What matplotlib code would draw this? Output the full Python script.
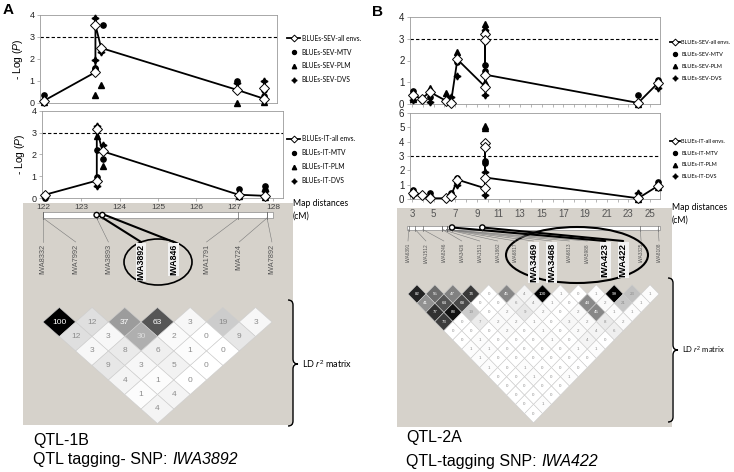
import numpy as np
import matplotlib.pyplot as plt
from matplotlib.patches import Rectangle, Polygon, Ellipse, Circle, PathPatch
from matplotlib.path import Path

plt.rcParams['font.family'] = ['Liberation Sans', 'DejaVu Sans']
plt.rcParams['mathtext.fontset'] = 'custom'
plt.rcParams['mathtext.rm'] = 'Liberation Sans'
plt.rcParams['mathtext.it'] = 'Liberation Sans:italic'
plt.rcParams['mathtext.bf'] = 'Liberation Sans:bold'

W, H = 734, 472
GREY = '#d6d2cb'
SOFT = ['Lato', 'DejaVu Sans']

# ---------------------------------------------------------
# Panel A: QTL-1B
# ---------------------------------------------------------
a_markers = ['IWA8332', 'IWA7992', 'IWA3893', 'IWA3892', 'IWA846', 'IWA1791', 'IWA724', 'IWA7892']
a_map_cm = [122.0, 122.0, 123.4, 123.4, 123.55, 127.1, 127.85, 127.85]
a_bold = ['IWA3892', 'IWA846']
a_circled = ['IWA3892', 'IWA846']
a_ticks = [122, 123, 124, 125, 126, 127, 128]

# -log10(P), severity (SEV)
a_sev_all_x = [122.05, 123.4, 123.4, 123.55, 127.1, 127.8, 127.8]
a_sev_all_y = [0.1, 1.4, 3.55, 2.5, 0.6, 0.2, 0.7]
a_sev_mtv_x = [122.05, 123.4, 123.4, 123.6, 127.1, 127.8, 127.8]
a_sev_mtv_y = [0.35, 1.6, 1.55, 3.55, 1.0, 0.6, 0.3]
a_sev_plm_x = [122.05, 123.4, 123.55, 127.1, 127.8]
a_sev_plm_y = [0.05, 0.35, 0.8, 0.0, 0.05]
a_sev_dvs_x = [122.05, 123.4, 123.4, 123.55, 127.1, 127.8]
a_sev_dvs_y = [0.1, 1.95, 3.85, 2.3, 0.9, 1.0]

# -log10(P), infection type (IT)
a_it_all_x = [122.05, 123.4, 123.4, 123.55, 127.1, 127.8]
a_it_all_y = [0.15, 0.8, 3.15, 2.15, 0.15, 0.1]
a_it_mtv_x = [122.05, 123.4, 123.4, 123.55, 127.1, 127.8, 127.8]
a_it_mtv_y = [0.0, 2.2, 0.95, 1.8, 0.4, 0.55, 0.35]
a_it_plm_x = [123.4, 123.55, 127.1, 127.8]
a_it_plm_y = [2.85, 1.45, 0.1, 0.05]
a_it_dvs_x = [122.05, 123.4, 123.4, 123.55, 127.1, 127.8]
a_it_dvs_y = [0.05, 3.3, 0.55, 2.45, 0.2, 0.3]

# LD r2 (x100), one list per marker distance
a_ld = [[100, 12, 37, 63, 3, 19, 3],
        [12, 3, 30, 2, 0, 9],
        [3, 8, 6, 1, 0],
        [9, 3, 5, 0],
        [4, 1, 0],
        [1, 4],
        [4]]

# ---------------------------------------------------------
# Panel B: QTL-2A
# ---------------------------------------------------------
b_markers = ['IWA6391', 'IWA1512', 'IWA8246', 'IWA3426', 'IWA1511', 'IWA1862', 'IWA6817',
             'IWA3469', 'IWA3468', 'IWA6813', 'IWA5988', 'IWA423', 'IWA422', 'IWA3325', 'IWA8108']
b_map_cm = [2.7, 3.3, 4.0, 5.8, 5.8, 6.2, 6.2, 6.2, 6.2, 6.2, 6.2, 6.7, 9.5, 24.1, 25.75]
b_bold = ['IWA3469', 'IWA3468', 'IWA423', 'IWA422']
b_circled = ['IWA423', 'IWA422']
b_ticks = [3, 5, 7, 9, 11, 13, 15, 17, 19, 21, 23, 25]

b_sev_all_x = [3.1, 3.9, 4.66, 6.14, 6.6, 7.2, 9.75, 9.75, 9.75, 9.75, 23.9, 25.7]
b_sev_all_y = [0.4, 0.25, 0.55, 0.15, 0.05, 2.05, 0.8, 3.2, 2.95, 1.35, 0.05, 0.95]
b_sev_mtv_x = [3.1, 3.9, 4.66, 6.6, 7.2, 9.75, 9.75, 9.75, 23.9, 25.7]
b_sev_mtv_y = [0.6, 0.2, 0.3, 0.1, 1.95, 2.9, 1.8, 1.5, 0.4, 1.1]
b_sev_plm_x = [3.1, 4.66, 6.14, 7.2, 9.75, 9.75, 9.75, 23.9, 25.7]
b_sev_plm_y = [0.25, 0.75, 0.5, 2.4, 3.7, 3.5, 1.0, 0.0, 1.0]
b_sev_dvs_x = [3.1, 4.66, 6.6, 7.2, 9.75, 9.75, 23.9, 25.7]
b_sev_dvs_y = [0.2, 0.1, 0.3, 1.3, 0.4, 3.4, 0.05, 0.75]

b_it_all_x = [3.1, 3.9, 4.66, 6.14, 6.6, 7.2, 9.75, 9.75, 9.75, 9.75, 23.9, 25.7]
b_it_all_y = [0.45, 0.3, 0.05, 0.05, 0.2, 1.35, 0.75, 3.9, 3.65, 1.5, 0.05, 0.9]
b_it_mtv_x = [3.1, 3.9, 4.66, 6.6, 7.2, 9.75, 9.75, 9.75, 23.9, 25.7]
b_it_mtv_y = [0.65, 0.3, 0.4, 0.4, 1.5, 2.65, 2.5, 1.5, 0.05, 1.2]
b_it_plm_x = [6.6, 7.2, 9.75, 9.75, 23.9, 25.7]
b_it_plm_y = [0.3, 1.3, 5.1, 4.95, 0.0, 0.85]
b_it_dvs_x = [3.1, 4.66, 6.14, 7.2, 9.75, 9.75, 23.9, 25.7]
b_it_dvs_y = [0.3, 0.2, 0.05, 1.0, 0.3, 1.9, 0.4, 0.9]

b_ld = [[82, 55, 47, 74, 0, 45, 4, 100, 1, 0, 1, 99, 23, 1],
        [41, 64, 68, 0, 0, 6, 4, 1, 0, 44, 2, 21, 1],
        [77, 88, 19, 0, 2, 9, 2, 0, 2, 45, 1, 1],
        [73, 0, 7, 2, 2, 1, 0, 3, 2, 8, 2],
        [0, 0, 0, 2, 0, 1, 0, 2, 4, 6],
        [0, 1, 0, 0, 0, 1, 0, 4, 0],
        [1, 1, 0, 0, 0, 0, 1, 1],
        [1, 0, 0, 0, 0, 0, 0],
        [1, 0, 1, 0, 0, 0],
        [0, 0, 1, 0, 1],
        [0, 0, 0, 0],
        [0, 0, 0],
        [0, 1],
        [0]]


fig = plt.figure(figsize=(W / 100, H / 100), dpi=100)

# overlay axes in pixel units for the map / LD part
ov = fig.add_axes([0, 0, 1, 1])
ov.set_xlim(0, W)
ov.set_ylim(H, 0)
ov.axis('off')
ov.set_zorder(1)


def px_axes(l, t, r, b):
    ax = fig.add_axes([l / W, 1 - b / H, (r - l) / W, (b - t) / H])
    ax.set_zorder(2)
    for sp in ax.spines.values():
        sp.set_color('#9a9a9a')
        sp.set_linewidth(0.6)
    return ax


def gwas(ax, trait, all_x, all_y, mtv_x, mtv_y, plm_x, plm_y, dvs_x, dvs_y):
    ax.axhline(3, color='black', ls=(0, (3, 2)), lw=0.8, zorder=1)
    ax.plot(mtv_x, mtv_y, 'o', color='black', ms=3.8, clip_on=False, zorder=3,
            label=f'BLUEs-{trait}-MTV')
    ax.plot(plm_x, plm_y, '^', color='black', ms=4.2, clip_on=False, zorder=3,
            label=f'BLUEs-{trait}-PLM')
    ax.plot(dvs_x, dvs_y, marker=(4, 1, 0), ls='none', color='black', ms=5, clip_on=False,
            zorder=3, label=f'BLUEs-{trait}-DVS')
    ax.plot(all_x, all_y, color='black', lw=1.3, marker='D', ms=4.6, mfc='white', mec='black',
            mew=0.7, clip_on=False, zorder=4, label=f'BLUEs-{trait}-all envs.')
    h, l = ax.get_legend_handles_labels()
    order = [3, 0, 1, 2]
    return [h[i] for i in order], [l[i] for i in order]


def legend(ax, handles, labels, x_anchor, y_anchor, size, hlen):
    ax.legend(handles, labels, loc='center left', bbox_to_anchor=(x_anchor, y_anchor),
              frameon=False, prop={'family': SOFT, 'size': size}, handlelength=hlen,
              handletextpad=0.2, labelspacing=1.0 * 5 / size, borderpad=0, borderaxespad=0,
              markerscale=0.75)


# ---------------- panel A plots ----------------
ax1 = px_axes(40, 15, 277, 103)
hl = gwas(ax1, 'SEV', a_sev_all_x, a_sev_all_y, a_sev_mtv_x, a_sev_mtv_y,
          a_sev_plm_x, a_sev_plm_y, a_sev_dvs_x, a_sev_dvs_y)
ax1.set_xlim(121.95, 128.15)
ax1.set_ylim(0, 4)
ax1.set_yticks([0, 1, 2, 3, 4])
ax1.set_xticks(a_ticks)
ax1.tick_params(axis='x', labelbottom=False, length=0)
ax1.tick_params(axis='y', labelsize=6.5, length=2, width=0.5, colors='#9a9a9a',
                labelcolor='#222222', pad=2)
ax1.set_ylabel(r'- Log ($\it{P}$)', fontsize=7.5, labelpad=3)
legend(ax1, *hl, 1.042, 0.5, 4.8, 2.0)

ax2 = px_axes(42, 111, 283, 198)
hl = gwas(ax2, 'IT', a_it_all_x, a_it_all_y, a_it_mtv_x, a_it_mtv_y,
          a_it_plm_x, a_it_plm_y, a_it_dvs_x, a_it_dvs_y)
ax2.set_xlim(121.97, 128.26)
ax2.set_ylim(0, 4)
ax2.set_yticks([0, 1, 2, 3, 4])
ax2.set_xticks(a_ticks)
ax2.tick_params(axis='x', labelsize=6, length=2, width=0.5, colors='#9a9a9a',
                labelcolor='#444444', pad=2.5)
ax2.tick_params(axis='y', labelsize=6.5, length=2, width=0.5, colors='#9a9a9a',
                labelcolor='#222222', pad=2)
ax2.set_ylabel(r'- Log ($\it{P}$)', fontsize=7.5, labelpad=3)
legend(ax2, *hl, (287 - 42) / 241, 0.443, 4.8, 2.0)

# ---------------- panel B plots ----------------
ax3 = px_axes(410, 17, 660, 104)
hl = gwas(ax3, 'SEV', b_sev_all_x, b_sev_all_y, b_sev_mtv_x, b_sev_mtv_y,
          b_sev_plm_x, b_sev_plm_y, b_sev_dvs_x, b_sev_dvs_y)
ax3.set_xlim(2.82, 25.92)
ax3.set_ylim(0, 4)
ax3.set_yticks([0, 1, 2, 3, 4])
ax3.set_xticks(range(3, 26))
ax3.tick_params(axis='x', labelbottom=False, length=2, width=0.5, colors='#9a9a9a')
ax3.tick_params(axis='y', labelsize=7, length=2, width=0.5, colors='#9a9a9a',
                labelcolor='#222222', pad=2)
legend(ax3, *hl, 1.038, 0.5, 4.0, 1.9)

ax4 = px_axes(410, 113, 660, 199)
hl = gwas(ax4, 'IT', b_it_all_x, b_it_all_y, b_it_mtv_x, b_it_mtv_y,
          b_it_plm_x, b_it_plm_y, b_it_dvs_x, b_it_dvs_y)
ax4.set_xlim(2.82, 25.92)
ax4.set_ylim(0, 6)
ax4.set_yticks(range(0, 7))
ax4.set_xticks(b_ticks)
ax4.set_xticks(range(3, 26), minor=True)
ax4.tick_params(axis='x', which='both', labelsize=7, length=2, width=0.5, colors='#9a9a9a',
                labelcolor='#555555', pad=5.5)
ax4.tick_params(axis='y', labelsize=7, length=2, width=0.5, colors='#9a9a9a',
                labelcolor='#222222', pad=2)
legend(ax4, *hl, 1.038, 0.465, 4.0, 1.9)


# ---------------- map, labels and LD ----------------
def brace(x, y0, y1, ym, w):
    verts = [(x, y0), (x + w / 2, y0), (x + w / 2, y0 + w / 2),
             (x + w / 2, ym - w / 2), (x + w / 2, ym), (x + w, ym),
             (x + w / 2, ym), (x + w / 2, ym + w / 2),
             (x + w / 2, y1 - w / 2), (x + w / 2, y1), (x, y1)]
    codes = [Path.MOVETO, Path.CURVE3, Path.CURVE3, Path.LINETO, Path.CURVE3, Path.CURVE3,
             Path.CURVE3, Path.CURVE3, Path.LINETO, Path.CURVE3, Path.CURVE3]
    ov.add_patch(PathPatch(Path(verts, codes), fc='none', ec='black', lw=1.0))


def map_block(names, map_cm, cm0, px0, px_per_cm, lab_x0, lab_step, bar, lab_top,
              bold, circled, fs_norm, fs_bold):
    bx0, bx1, by0, by1 = bar
    ov.add_patch(Rectangle((bx0, by0), bx1 - bx0, by1 - by0, fc='white', ec='#8a8a8a', lw=0.5))
    for i, (nm, cm) in enumerate(zip(names, map_cm)):
        mx = px0 + (cm - cm0) * px_per_cm
        lx = lab_x0 + i * lab_step
        ov.plot([mx, mx], [by0, by1 + 1], color='#666666', lw=0.5)
        if nm in circled:
            ov.plot([mx, lx], [by0 + 2, lab_top - 1], color='black', lw=1.5, solid_capstyle='round')
            ov.add_patch(Circle((mx, (by0 + by1) / 2), 2.6, fc='white', ec='black', lw=1.0, zorder=5))
        else:
            ov.plot([mx, lx], [by1, lab_top - 1], color='#7a7a7a', lw=0.4)
        if nm in bold:
            ov.text(lx, lab_top + 1, nm, rotation=90, ha='center', va='top', fontsize=fs_bold,
                    fontweight='bold', color='black',
                    bbox=dict(fc='#f2f2f2', ec='none', pad=0.6))
        else:
            ov.text(lx, lab_top + 1, nm, rotation=90, ha='center', va='top', fontsize=fs_norm,
                    color='#555555')


def ld_block(rows, lab_x0, lab_step, y_top, dy, fs):
    for d, row in enumerate(rows, 1):
        for i, v in enumerate(row):
            cx = lab_x0 + (i + d / 2) * lab_step
            cy = y_top + (d - 1) * dy
            g = min(1.0, max(0.0, 1 - 1.05 * v / 100))
            ov.add_patch(Polygon([(cx, cy - dy), (cx + lab_step / 2, cy), (cx, cy + dy),
                                  (cx - lab_step / 2, cy)], closed=True, fc=(g, g, g),
                                 ec='#cdcdcd', lw=0.4))
            if v >= 35:
                tc = 'white'
            elif v >= 25:
                tc = '#dcdcdc'
            else:
                tc = '#8c8c8c'
            ov.text(cx, cy, str(v), ha='center', va='center', fontsize=fs, color=tc)


def caption(x, y, plain, ital):
    t = ov.text(x, y, plain, fontsize=11.5, va='baseline')
    ov.annotate(ital, xy=(1, 0), xycoords=t, va='bottom', ha='left', fontsize=11.5,
                style='italic')


# grey map backgrounds
ov.add_patch(Rectangle((23, 203), 270, 222, fc=GREY, ec='none'))
ov.add_patch(Rectangle((397, 208), 275, 219, fc=GREY, ec='none'))

# panel A
map_block(a_markers, a_map_cm, 122, 43, 38.3, 43, 32.7, (43, 273, 212, 218), 243,
          a_bold, a_circled, 5.3, 6.3)
ov.add_patch(Ellipse((158, 262), 68, 46, fc='none', ec='black', lw=1.2))
ld_block(a_ld, 43, 32.7, 322, 14.5, 6)
brace(288, 300, 426, 364, 10)
ov.text(302, 364, r'LD $\it{r}^2$ matrix', fontsize=6.5, va='center', ha='left', family=SOFT)
ov.text(293, 204, 'Map distances', fontsize=6.2, va='center', family=SOFT)
ov.text(293, 216, '(cM)', fontsize=6.2, va='center', family=SOFT)

# panel B
map_block(b_markers, b_map_cm, 3, 412, 10.82, 408, 17.93, (407, 660, 225.5, 229.5), 242,
          b_bold, b_circled, 3.4, 6.8)
ov.add_patch(Ellipse((577, 255), 142, 56, fc='none', ec='black', lw=1.5))
ld_block(b_ld, 408, 17.93, 294, 9.2, 3.2)
brace(668, 278, 422, 350, 10)
ov.text(682, 350, r'LD $\it{r}^2$ matrix', fontsize=5.5, va='center', ha='left', family=SOFT)
ov.text(672, 207, 'Map distances', fontsize=6.2, va='center', family=SOFT)
ov.text(672, 220, '(cM)', fontsize=6.2, va='center', family=SOFT)

# panel letters and captions
ov.text(3, 10, 'A', fontsize=11, fontweight='bold', va='center')
ov.text(372, 12, 'B', fontsize=11, fontweight='bold', va='center')
ov.text(33, 445, 'QTL-1B', fontsize=11.5, va='baseline')
caption(33, 464, 'QTL tagging- SNP: ', 'IWA3892')
ov.text(406, 442, 'QTL-2A', fontsize=11.5, va='baseline')
caption(406, 466, 'QTL-tagging SNP: ', 'IWA422')

fig.savefig('out.png', dpi=100)
